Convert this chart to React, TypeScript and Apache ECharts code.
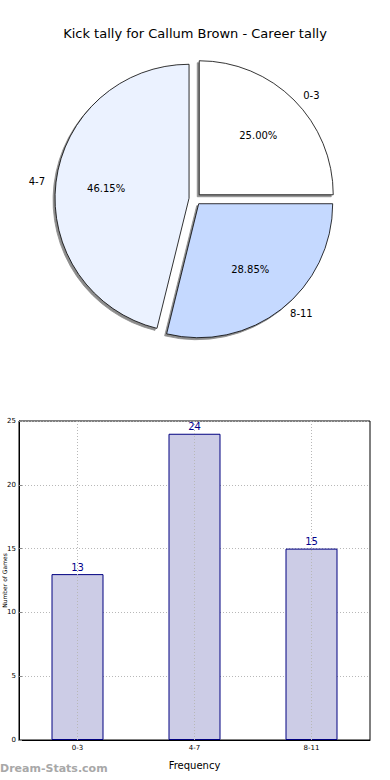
import React, { useEffect, useRef } from "react";
import * as echarts from "echarts";

const categories = ["0-3", "4-7", "8-11"];
const values = [13, 24, 15];
const pieColors = ["#ffffff", "#ebf2ff", "#c5d9ff"];
const yTicks = [0, 5, 10, 15, 20, 25];

const FONT = "DejaVu Sans";

export default function App() {
  const ref = useRef<HTMLDivElement>(null);
  useEffect(() => {
    if (!ref.current) return;
    const chart = echarts.init(ref.current, undefined, { renderer: "svg" });
    const total = values.reduce((a, b) => a + b, 0);
    const pieData = categories.map((c, i) => ({
      name: c,
      value: values[i],
      selected: true,
      itemStyle: { color: pieColors[i] },
    }));
    chart.setOption({
      animation: false,
      backgroundColor: "#ffffff",
      textStyle: { fontFamily: FONT },
      title: {
        text: "Kick tally for Callum Brown - Career tally",
        left: "center",
        top: 22,
        textStyle: { fontFamily: FONT, fontSize: 13, fontWeight: "normal", color: "#000" },
      },
      graphic: [
        {
          type: "text",
          left: 0,
          top: 763,
          style: {
            text: "Dream-Stats.com",
            fill: "#a8a8a8",
            font: "bold 11px 'DejaVu Sans'",
          },
        },
      ],
      grid: {
        left: 19,
        top: 421,
        width: 351,
        height: 319,
        outerBoundsMode: "none",
        containLabel: false,
        show: true,
        borderColor: "#000",
        borderWidth: 1,
        backgroundColor: "transparent",
      },
      xAxis: {
        type: "category",
        data: categories,
        name: "Frequency",
        nameLocation: "middle",
        nameGap: 20,
        nameMoveOverlap: false,
        nameTextStyle: { fontFamily: FONT, fontSize: 10, color: "#000" },
        axisLine: { show: true, lineStyle: { color: "#000", width: 1 } },
        axisTick: { show: false },
        axisLabel: { fontFamily: FONT, fontSize: 7, color: "#000", margin: 4 },
        splitLine: { show: false },
      },
      yAxis: {
        type: "value",
        min: yTicks[0],
        max: yTicks[yTicks.length - 1],
        interval: 5,
        name: "Number of Games",
        nameLocation: "middle",
        nameGap: 12,
        nameMoveOverlap: false,
        nameTextStyle: { fontFamily: FONT, fontSize: 6, color: "#000" },
        axisLine: { show: true, lineStyle: { color: "#000", width: 1 } },
        axisTick: { show: true, inside: true, length: 3, lineStyle: { color: "#888" } },
        axisLabel: { fontFamily: FONT, fontSize: 7, color: "#000", margin: 3 },
        splitLine: { show: true, lineStyle: { color: "#b8b8b8", type: [1, 2], width: 1 } },
      },
      series: [
        {
          type: "pie",
          center: [195, 199],
          radius: 134,
          startAngle: 0,
          clockwise: false,
          selectedMode: "multiple",
          selectedOffset: 6,
          data: pieData,
          itemStyle: {
            borderColor: "#000",
            borderWidth: 0.8,
            shadowColor: "rgba(0,0,0,0.45)",
            shadowOffsetX: -2,
            shadowOffsetY: 2,
            shadowBlur: 1,
          },
          label: {
            show: true,
            position: "outside",
            formatter: "{b}",
            fontFamily: FONT,
            fontSize: 10,
            color: "#000",
          },
          labelLine: { show: false, length: 6, length2: 0 },
          emphasis: { disabled: true },
          silent: true,
          z: 2,
        },
        {
          type: "pie",
          center: [195, 199],
          radius: [27, 134],
          startAngle: 0,
          clockwise: false,
          selectedMode: "multiple",
          selectedOffset: 6,
          data: pieData.map((d) => ({ ...d, itemStyle: { color: "transparent" } })),
          itemStyle: { borderWidth: 0 },
          label: {
            show: true,
            position: "inside",
            formatter: (p: any) => ((p.value / total) * 100).toFixed(2) + "%",
            fontFamily: FONT,
            fontSize: 10,
            color: "#000",
          },
          labelLine: { show: false },
          emphasis: { disabled: true },
          silent: true,
          z: 3,
        },
        {
          type: "bar",
          data: values,
          barWidth: 52,
          itemStyle: { color: "#cccce6", borderColor: "#000080", borderWidth: 1 },
          label: {
            show: true,
            position: "top",
            distance: 2,
            fontFamily: FONT,
            fontSize: 10,
            color: "#00008b",
          },
          markLine: {
            silent: true,
            symbol: "none",
            label: { show: false },
            lineStyle: { color: "#b8b8b8", type: [1, 2], width: 1 },
            data: categories.map((c) => ({ xAxis: c })),
          },
          emphasis: { disabled: true },
          silent: true,
        },
      ],
    });
    return () => chart.dispose();
  }, []);
  return (
    <div
      ref={ref}
      style={{ position: "absolute", left: 0, top: 0, width: 390, height: 780 }}
    />
  );
}
